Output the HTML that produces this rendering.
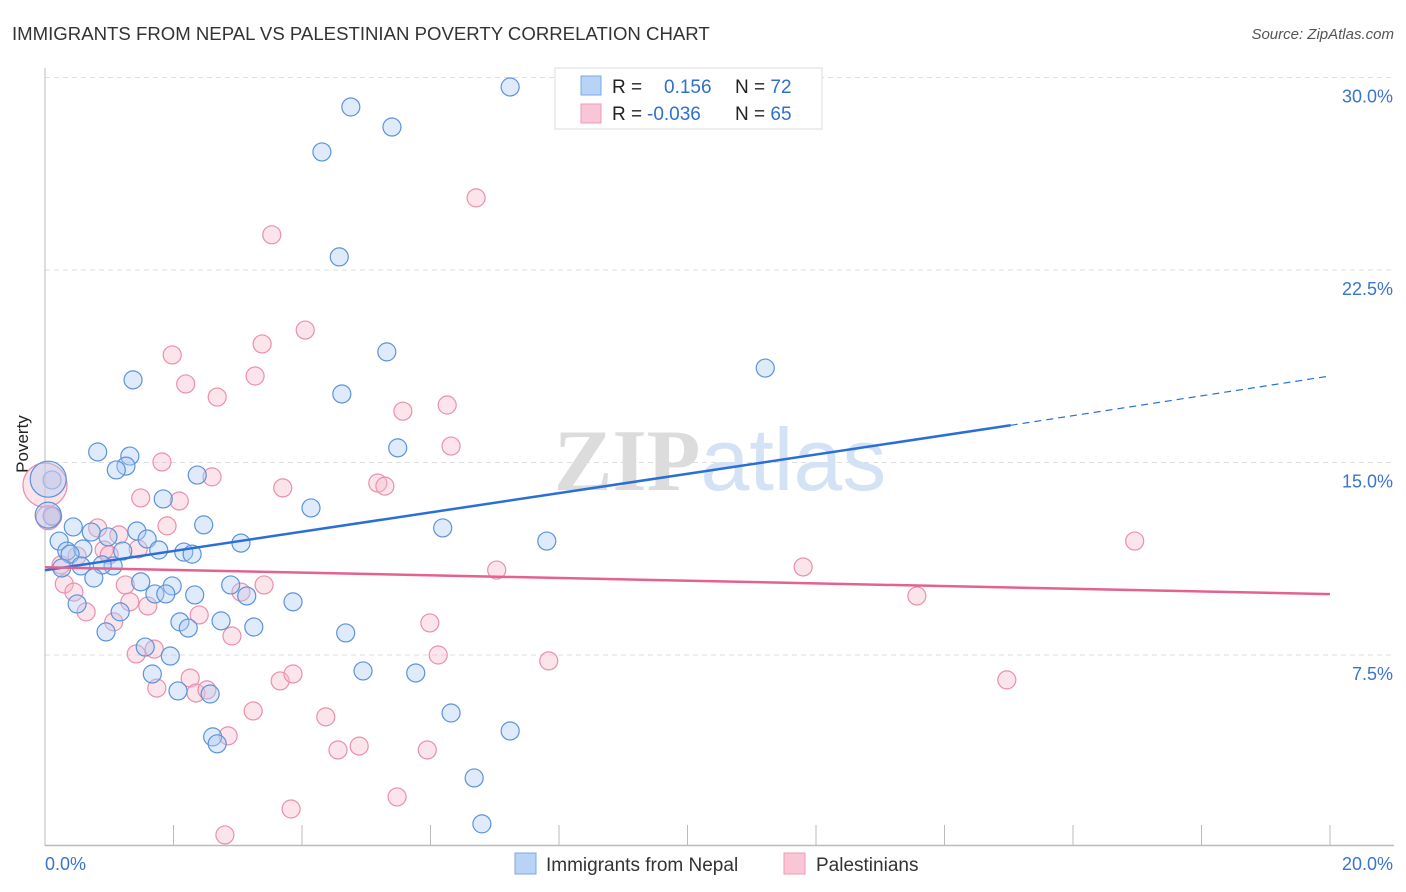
<!DOCTYPE html>
<html><head><meta charset="utf-8"><style>
body{margin:0;background:#fff;font-family:"Liberation Sans",sans-serif;}
svg{display:block}
</style></head><body>
<svg width="1406" height="892" id="c">
<text x="12" y="40" font-size="18.6" fill="#333">IMMIGRANTS FROM NEPAL VS PALESTINIAN POVERTY CORRELATION CHART</text>
<text x="1394" y="39" font-size="15" fill="#555" font-style="italic" text-anchor="end">Source: ZipAtlas.com</text>
<text x="40" y="456" font-size="17" fill="#222" text-anchor="middle" transform="rotate(-90 28 456)">Poverty</text>
<g id="grid"></g>
<text x="720" y="490" font-size="88" text-anchor="middle"><tspan fill="#dcdcdc" font-family="Liberation Serif" font-weight="bold">ZIP</tspan><tspan fill="#d3e2f4">atlas</tspan></text>
<g id="pts"></g>
<g id="lines"></g>
<g>
<rect x="555" y="68" width="267" height="61" fill="#fff" stroke="#ddd"/>
<rect x="581" y="76" width="20" height="19" fill="#b8d3f5" stroke="#7aaae6"/>
<rect x="581" y="104" width="20" height="19" fill="#f9c6d6" stroke="#ee9ab5"/>
<text x="612" y="93" font-size="19" fill="#222">R = <tspan fill="#2f6fd0" x="664">0.156</tspan><tspan x="735" fill="#222">N = </tspan><tspan fill="#2f6fd0">72</tspan></text>
<text x="612" y="120" font-size="19" fill="#222">R = <tspan fill="#2f6fd0" x="647">-0.036</tspan><tspan x="735" fill="#222">N = </tspan><tspan fill="#2f6fd0">65</tspan></text>
</g>
<g>
<rect x="515" y="853" width="21" height="21" fill="#b8d3f5" stroke="#7aaae6"/>
<text x="546" y="871" font-size="19" fill="#333">Immigrants from Nepal</text>
<rect x="784" y="853" width="21" height="21" fill="#f9c6d6" stroke="#ee9ab5"/>
<text x="816" y="871" font-size="19" fill="#333">Palestinians</text>
</g>
</svg>
<script>
const yTicks=[7.5,15,22.5,30];
const yTickLabels=["7.5%","15.0%","22.5%","30.0%"];
const xTickLabels=["0.0%","20.0%"];
const blueX=[7.24,4.76,5.40,4.31,4.58,5.32,11.21,1.37,4.62,5.49,0.82,1.32,1.26,1.11,2.37,0.11,1.84,4.14,0.11,2.47,0.44,6.19,1.43,0.72,1.59,7.81,0.22,3.05,1.77,2.16,2.29,0.34,0.59,1.21,0.39,0.98,0.26,0.56,1.06,0.89,0.76,1.49,1.98,1.71,1.88,2.33,2.89,3.14,3.86,0.50,1.17,2.74,2.10,2.23,3.25,0.95,4.68,1.56,1.95,1.67,4.95,5.77,2.07,2.57,6.32,7.24,2.61,2.68,6.68,6.80];
const blueY=[29.63,28.85,28.07,27.10,23.01,19.31,18.68,18.22,17.67,15.57,15.41,15.25,14.86,14.71,14.51,14.32,13.58,13.23,12.92,12.57,12.49,12.45,12.33,12.29,12.02,11.94,11.94,11.86,11.59,11.51,11.43,11.55,11.63,11.55,11.43,12.10,10.89,10.97,10.97,11.01,10.50,10.35,10.19,9.88,9.88,9.84,10.23,9.80,9.57,9.49,9.18,8.83,8.79,8.55,8.59,8.40,8.36,7.81,7.46,6.76,6.88,6.80,6.10,5.98,5.24,4.54,4.31,4.04,2.71,0.92];
const pinkX=[6.71,3.53,4.05,3.38,1.98,3.27,2.19,2.68,5.57,6.26,6.32,1.82,2.60,5.18,5.29,3.70,1.49,2.09,0.12,0.82,1.90,1.15,1.45,0.92,1.00,0.50,0.25,7.03,11.80,16.96,0.30,0.45,1.25,3.41,3.05,1.32,1.60,0.64,2.40,1.07,5.99,2.91,1.70,1.42,6.12,7.84,2.26,3.66,3.86,1.74,2.35,2.52,13.57,14.97,3.24,4.37,2.85,4.89,4.56,5.95,5.48,3.83,2.80];
const pinkY=[25.31,23.87,20.16,19.62,19.19,18.37,18.06,17.55,17.00,17.24,15.64,15.02,14.44,14.20,14.08,14.01,13.62,13.50,12.88,12.45,12.53,12.18,11.63,11.59,11.40,11.36,11.01,10.81,10.93,11.94,10.27,9.95,10.23,10.23,9.95,9.57,9.41,9.18,9.06,8.79,8.75,8.24,7.73,7.54,7.50,7.27,6.60,6.49,6.76,6.21,6.02,6.14,9.80,6.53,5.32,5.09,4.35,3.95,3.80,3.80,1.97,1.50,0.49];
const bigBlue=[[0.05,14.35,18],[0.05,12.95,13]];
const bigPink=[[0.0,14.12,22],[0.05,12.85,12]];
const blueTrend=[[0,10.80],[15.03,16.45],[20,18.37]];
const pinkTrend=[[0,10.92],[20,9.87]];
const NS='http://www.w3.org/2000/svg';
const sx=v=>45+v/20*1285, sy=v=>847.5-v/7.5*192.5;
function mk(t,a,p){const e=document.createElementNS(NS,t);for(const k in a)e.setAttribute(k,a[k]);p.appendChild(e);return e;}
const g=document.getElementById('grid');
yTicks.forEach((t,i)=>{const l=mk('line',{x1:45,x2:1394,y1:sy(t),y2:sy(t),stroke:'#ddd','stroke-dasharray':'5,4'},g);


const tx=mk('text',{x:1393,y:sy(t)+25,'font-size':18,fill:'#3a74d0','text-anchor':'end'},g);tx.textContent=yTickLabels[i];

});
mk('line',{x1:45,x2:45,y1:68,y2:846,stroke:'#bbb'},g);
mk('line',{x1:45,x2:1394,y1:845.5,y2:845.5,stroke:'#bbb','stroke-width':1.5},g);
for(let i=0;i<=10;i++){mk('line',{x1:sx(i*2),x2:sx(i*2),y1:825,y2:845,stroke:'#bbb'},g);}
[0,20].forEach((v,i)=>{const tx=mk('text',{x:i?1393:45,y:870,'font-size':18,fill:'#3a74d0','text-anchor':i?'end':'start'},g);tx.textContent=xTickLabels[i];

});
const p=document.getElementById('pts');
function dot(x,y,r,f,s,n){const c=mk('circle',{cx:sx(x),cy:sy(y),r:r,fill:f,'fill-opacity':0.4,stroke:s,'stroke-width':1.2},p);

}
pinkX.forEach((x,i)=>dot(x,pinkY[i],9,'#f7bccd','#ea8fae','palestinian-point'));
blueX.forEach((x,i)=>dot(x,blueY[i],9,'#aecbf2','#5b93dc','nepal-point'));
bigPink.forEach(b=>dot(b[0],b[1],b[2],'#f7bccd','#ea8fae','palestinian-point'));
bigBlue.forEach(b=>dot(b[0],b[1],b[2],'#aecbf2','#5b93dc','nepal-point'));
const L=document.getElementById('lines');
let a=mk('line',{x1:sx(blueTrend[0][0]),y1:sy(blueTrend[0][1]),x2:sx(blueTrend[1][0]),y2:sy(blueTrend[1][1]),stroke:'#2a6fd6','stroke-width':2.5},L);


a=mk('line',{x1:sx(blueTrend[1][0]),y1:sy(blueTrend[1][1]),x2:sx(blueTrend[2][0]),y2:sy(blueTrend[2][1]),stroke:'#2a6fd6','stroke-width':1.2,'stroke-dasharray':'7,5'},L);


a=mk('line',{x1:sx(pinkTrend[0][0]),y1:sy(pinkTrend[0][1]),x2:sx(pinkTrend[1][0]),y2:sy(pinkTrend[1][1]),stroke:'#e5628f','stroke-width':2.5},L);


</script>
</body></html>
